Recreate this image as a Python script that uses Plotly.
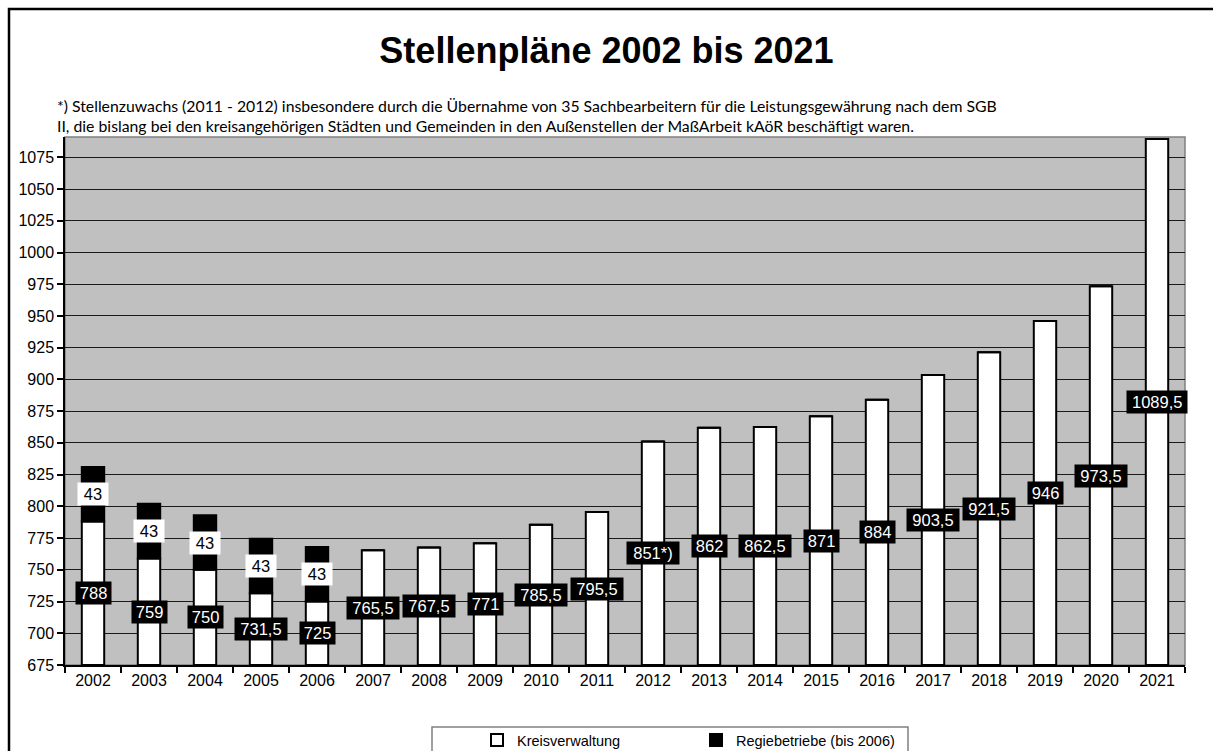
import plotly.graph_objects as go

years = ["2002", "2003", "2004", "2005", "2006", "2007", "2008", "2009", "2010", "2011",
         "2012", "2013", "2014", "2015", "2016", "2017", "2018", "2019", "2020", "2021"]
kreis = [788, 759, 750, 731.5, 725, 765.5, 767.5, 771, 785.5, 795.5,
         851, 862, 862.5, 871, 884, 903.5, 921.5, 946, 973.5, 1089.5]
kreis_labels = ["788", "759", "750", "731,5", "725", "765,5", "767,5", "771", "785,5", "795,5",
                "851*)", "862", "862,5", "871", "884", "903,5", "921,5", "946", "973,5", "1089,5"]
regie = [43, 43, 43, 43, 43, None, None, None, None, None,
         None, None, None, None, None, None, None, None, None, None]
y_ticks = [675, 700, 725, 750, 775, 800, 825, 850, 875, 900, 925, 950, 975, 1000, 1025, 1050, 1075]

Y_MIN, Y_MAX = 675, 1091
pos = list(range(len(years)))
bounds = [i - 0.5 for i in range(len(years) + 1)]

L, R, T, B = 65, 1185, 137, 665
PW, PH = R - L, B - T


def px(xp):
    return (xp - L) / PW


def py(yp):
    return (B - yp) / PH


fig = go.Figure()
fig.add_trace(go.Bar(
    x=pos, y=[k - Y_MIN for k in kreis], base=Y_MIN, name="Kreisverwaltung",
    marker=dict(color="white", line=dict(color="black", width=2)),
    width=0.4, hoverinfo="skip"))
fig.add_trace(go.Bar(
    x=pos, y=[r if r is not None else 0 for r in regie], base=kreis,
    name="Regiebetriebe (bis 2006)",
    marker=dict(color="black", line=dict(color="black", width=2)),
    width=0.4, hoverinfo="skip"))

annotations = []
for i, k, lab in zip(pos, kreis, kreis_labels):
    annotations.append(dict(
        x=i, y=(Y_MIN + k) / 2, xref="x", yref="y", text=lab, showarrow=False,
        font=dict(family="Liberation Sans, Arial", size=16.5, color="white"),
        bgcolor="black", borderpad=2, width=len(lab) * 8.4 + 6))
for i, k, r in zip(pos, kreis, regie):
    if r is not None:
        annotations.append(dict(
            x=i, y=k + r / 2, xref="x", yref="y", text=str(r), showarrow=False,
            font=dict(family="Liberation Sans, Arial", size=16.5, color="black"),
            bgcolor="white", borderpad=2, width=26))

note1 = ("*) Stellenzuwachs (2011 - 2012) insbesondere durch die Übernahme von 35 Sachbearbeitern "
         "für die Leistungsgewährung nach dem SGB")
note2 = ("II, die bislang bei den kreisangehörigen Städten und Gemeinden in den Außenstellen der "
         "MaßArbeit kAöR beschäftigt waren.")
for txt, yp in ((note1, 105), (note2, 125)):
    annotations.append(dict(xref="paper", yref="paper", x=px(55), y=py(yp), text=txt,
                            showarrow=False, xanchor="left", yanchor="middle",
                            font=dict(family="Lato, Open Sans", size=15.8, color="black")))

shapes = [
    dict(type="rect", xref="paper", yref="paper",
         x0=px(9), x1=px(1222), y0=py(760), y1=py(9),
         line=dict(color="black", width=2.5), fillcolor="rgba(0,0,0,0)", layer="below"),
    dict(type="rect", xref="paper", yref="paper",
         x0=px(432), x1=px(908), y0=py(760), y1=py(727),
         line=dict(color="#808080", width=1.5), fillcolor="white", layer="below"),
    dict(type="rect", xref="paper", yref="paper", x0=0, x1=1, y0=0, y1=1,
         line=dict(color="#808080", width=1.5), fillcolor="rgba(0,0,0,0)", layer="below"),
]

fig.update_layout(
    width=1213, height=751,
    margin=dict(l=L, r=1213 - R, t=T, b=751 - B, autoexpand=False),
    paper_bgcolor="white", plot_bgcolor="#C0C0C0",
    barmode="overlay",
    title=dict(text="<b>Stellenpläne 2002 bis 2021</b>", x=0.5, xanchor="center",
               y=1 - 50 / 751, yanchor="middle", xref="container", yref="container",
               font=dict(family="Liberation Sans, Arial", size=36, color="black")),
    showlegend=True,
    legend=dict(orientation="h", x=px(477), xanchor="left",
                y=py(740), yanchor="middle", bgcolor="rgba(0,0,0,0)",
                font=dict(family="Liberation Sans, Arial", size=14.5, color="black"),
                entrywidth=174, itemwidth=30, traceorder="normal"),
    annotations=annotations, shapes=shapes,
    font=dict(family="Liberation Sans, Arial", color="black"),
)
fig.update_xaxes(range=[-0.5, len(years) - 0.5], tickvals=pos, ticktext=years, tickangle=0,
                 showgrid=False, showline=True, linecolor="black", linewidth=1.5,
                 ticks="", automargin=False, zeroline=False,
                 minor=dict(tickvals=bounds, ticks="outside", ticklen=6, tickcolor="black",
                            tickwidth=1.5, showgrid=False),
                 tickfont=dict(size=16, family="Liberation Sans, Arial", color="black"))
fig.update_yaxes(range=[Y_MIN, Y_MAX], tickvals=y_ticks, showgrid=True, gridcolor="#1a1a1a",
                 gridwidth=1.2, showline=True, linecolor="black", linewidth=1.5, automargin=False,
                 ticks="outside", ticklen=6, tickwidth=1.5, tickcolor="black", zeroline=False,
                 tickfont=dict(size=16, family="Liberation Sans, Arial", color="black"))

fig.write_html("out.html", config={"displayModeBar": False},
               post_script="document.body.style.margin='0';")
